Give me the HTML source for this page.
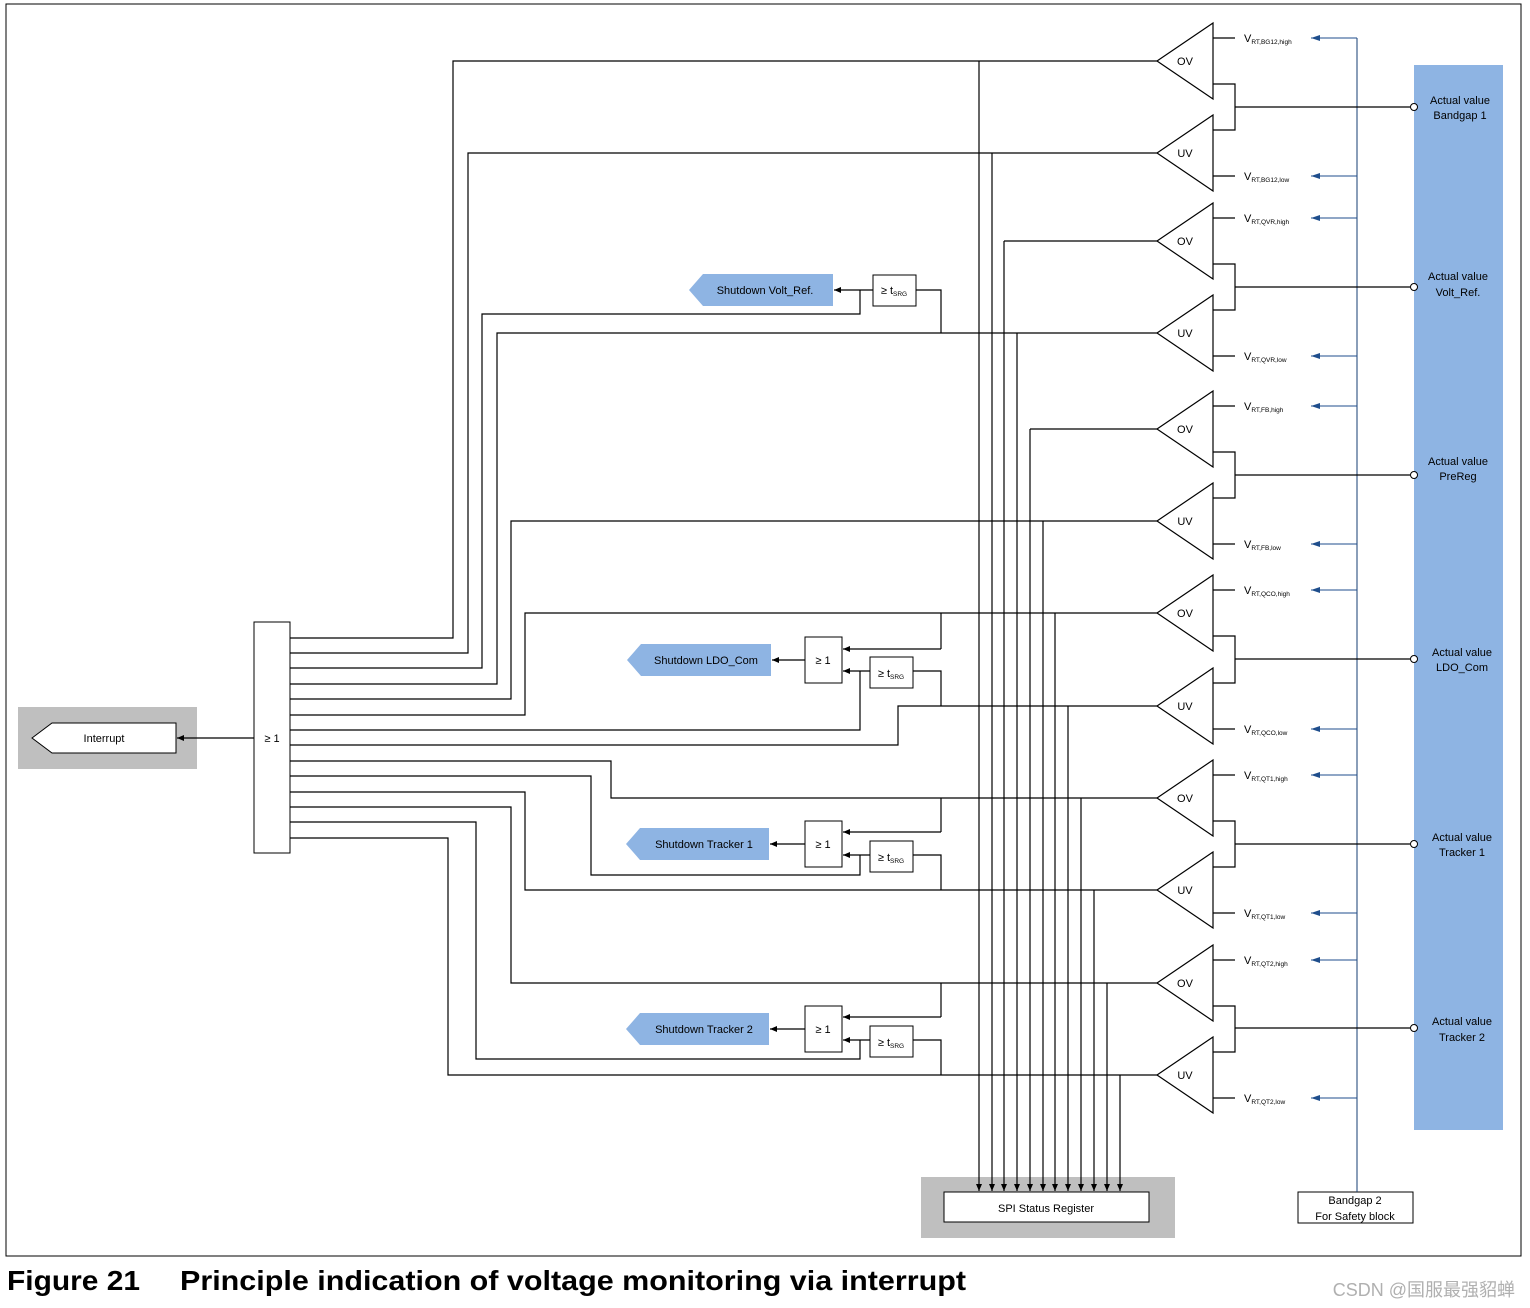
<!DOCTYPE html>
<html><head><meta charset="utf-8"><style>
html,body{margin:0;padding:0;background:#fff;}
svg{display:block;}
text{font-family:"Liberation Sans",sans-serif;}
</style></head><body>
<svg width="1530" height="1308" viewBox="0 0 1530 1308" xmlns="http://www.w3.org/2000/svg">
<defs>
<marker id="a" markerWidth="8" markerHeight="8" refX="7" refY="4" orient="auto" markerUnits="userSpaceOnUse"><path d="M0,1 L7,4 L0,7 Z" fill="#000"/></marker>
<marker id="b" markerWidth="10" markerHeight="8" refX="9" refY="4" orient="auto" markerUnits="userSpaceOnUse"><path d="M0,1 L9,4 L0,7 Z" fill="#1f4e8c"/></marker>
</defs>
<rect x="6" y="4" width="1515" height="1252" fill="none" stroke="#000" stroke-width="1"/>
<rect x="1414" y="65" width="89" height="1065" fill="#8eb4e3"/>
<rect x="18" y="707" width="179" height="62" fill="#bfbfbf"/>
<rect x="921" y="1177" width="254" height="61" fill="#bfbfbf"/>
<rect x="944" y="1192" width="205" height="30" fill="#fff" stroke="#000"/>
<text x="1046" y="1212" font-size="11" text-anchor="middle">SPI Status Register</text>
<rect x="1298" y="1192" width="115" height="31" fill="#fff" stroke="#000"/>
<text x="1355" y="1204" font-size="11" text-anchor="middle">Bandgap 2</text>
<text x="1355" y="1220" font-size="11" text-anchor="middle">For Safety block</text>
<g stroke="#1f4e8c" fill="none" stroke-width="1">
<line x1="1357" y1="38" x2="1357" y2="1192" stroke="#163e73"/>
<line x1="1357" y1="38" x2="1311" y2="38" marker-end="url(#b)"/>
<line x1="1357" y1="176" x2="1311" y2="176" marker-end="url(#b)"/>
<line x1="1357" y1="218" x2="1311" y2="218" marker-end="url(#b)"/>
<line x1="1357" y1="356" x2="1311" y2="356" marker-end="url(#b)"/>
<line x1="1357" y1="406" x2="1311" y2="406" marker-end="url(#b)"/>
<line x1="1357" y1="544" x2="1311" y2="544" marker-end="url(#b)"/>
<line x1="1357" y1="590" x2="1311" y2="590" marker-end="url(#b)"/>
<line x1="1357" y1="729" x2="1311" y2="729" marker-end="url(#b)"/>
<line x1="1357" y1="775" x2="1311" y2="775" marker-end="url(#b)"/>
<line x1="1357" y1="913" x2="1311" y2="913" marker-end="url(#b)"/>
<line x1="1357" y1="960" x2="1311" y2="960" marker-end="url(#b)"/>
<line x1="1357" y1="1098" x2="1311" y2="1098" marker-end="url(#b)"/>
</g>
<g stroke="#000" fill="none" stroke-width="1.2">
<path d="M1213,23 L1157,61 L1213,99 Z"/>
<path d="M1213,115 L1157,153 L1213,191 Z"/>
<path d="M1213,203 L1157,241 L1213,279 Z"/>
<path d="M1213,295 L1157,333 L1213,371 Z"/>
<path d="M1213,391 L1157,429 L1213,467 Z"/>
<path d="M1213,483 L1157,521 L1213,559 Z"/>
<path d="M1213,575 L1157,613 L1213,651 Z"/>
<path d="M1213,668 L1157,706 L1213,744 Z"/>
<path d="M1213,760 L1157,798 L1213,836 Z"/>
<path d="M1213,852 L1157,890 L1213,928 Z"/>
<path d="M1213,945 L1157,983 L1213,1021 Z"/>
<path d="M1213,1037 L1157,1075 L1213,1113 Z"/>
<path d="M1213,38H1235 M1213,176H1235 M1213,218H1235 M1213,356H1235 M1213,406H1235 M1213,544H1235 M1213,590H1235 M1213,729H1235 M1213,775H1235 M1213,913H1235 M1213,960H1235 M1213,1098H1235"/>
<path d="M1213,84H1235V130H1213 M1235,107H1410"/>
<path d="M1213,264H1235V310H1213 M1235,287H1410"/>
<path d="M1213,452H1235V498H1213 M1235,475H1410"/>
<path d="M1213,636H1235V683H1213 M1235,659H1410"/>
<path d="M1213,821H1235V867H1213 M1235,844H1410"/>
<path d="M1213,1006H1235V1052H1213 M1235,1028H1410"/>
</g>
<g fill="#fff" stroke="#000" stroke-width="1">
<circle cx="1414" cy="107" r="3.5"/><circle cx="1414" cy="287" r="3.5"/><circle cx="1414" cy="475" r="3.5"/>
<circle cx="1414" cy="659" r="3.5"/><circle cx="1414" cy="844" r="3.5"/><circle cx="1414" cy="1028" r="3.5"/>
</g>
<g font-size="11" text-anchor="middle" fill="#000">
<text x="1460" y="104">Actual value</text><text x="1460" y="119">Bandgap 1</text>
<text x="1458" y="280">Actual value</text><text x="1458" y="296">Volt_Ref.</text>
<text x="1458" y="465">Actual value</text><text x="1458" y="480">PreReg</text>
<text x="1462" y="656">Actual value</text><text x="1462" y="671">LDO_Com</text>
<text x="1462" y="841">Actual value</text><text x="1462" y="856">Tracker 1</text>
<text x="1462" y="1025">Actual value</text><text x="1462" y="1041">Tracker 2</text>
</g>
<g font-size="11" text-anchor="middle">
<text x="1185" y="65">OV</text><text x="1185" y="157">UV</text>
<text x="1185" y="245">OV</text><text x="1185" y="337">UV</text>
<text x="1185" y="433">OV</text><text x="1185" y="525">UV</text>
<text x="1185" y="617">OV</text><text x="1185" y="710">UV</text>
<text x="1185" y="802">OV</text><text x="1185" y="894">UV</text>
<text x="1185" y="987">OV</text><text x="1185" y="1079">UV</text>
</g>
<g font-size="11">
<text x="1244" y="42">V<tspan font-size="6.5" dy="2">RT,BG12,high</tspan></text>
<text x="1244" y="180">V<tspan font-size="6.5" dy="2">RT,BG12,low</tspan></text>
<text x="1244" y="222">V<tspan font-size="6.5" dy="2">RT,QVR,high</tspan></text>
<text x="1244" y="360">V<tspan font-size="6.5" dy="2">RT,QVR,low</tspan></text>
<text x="1244" y="410">V<tspan font-size="6.5" dy="2">RT,FB,high</tspan></text>
<text x="1244" y="548">V<tspan font-size="6.5" dy="2">RT,FB,low</tspan></text>
<text x="1244" y="594">V<tspan font-size="6.5" dy="2">RT,QCO,high</tspan></text>
<text x="1244" y="733">V<tspan font-size="6.5" dy="2">RT,QCO,low</tspan></text>
<text x="1244" y="779">V<tspan font-size="6.5" dy="2">RT,QT1,high</tspan></text>
<text x="1244" y="917">V<tspan font-size="6.5" dy="2">RT,QT1,low</tspan></text>
<text x="1244" y="964">V<tspan font-size="6.5" dy="2">RT,QT2,high</tspan></text>
<text x="1244" y="1102">V<tspan font-size="6.5" dy="2">RT,QT2,low</tspan></text>
</g>
<g stroke="#000" fill="none" stroke-width="1.2">
<path d="M1157,61H453V638H290"/>
<path d="M1157,153H468V653H290"/>
<path d="M1157,241H1004"/>
<path d="M1157,333H497V684H290"/>
<path d="M1157,429H1030"/>
<path d="M1157,521H511V699H290"/>
<path d="M1157,613H525V715H290"/>
<path d="M1157,706H898V745H290"/>
<path d="M1157,798H611V761H290"/>
<path d="M1157,890H525V792H290"/>
<path d="M1157,983H511V807H290"/>
<path d="M1157,1075H448V838H290"/>
<path d="M290,668H482V314H860V290"/>
<path d="M290,730H860V671"/>
<path d="M290,776H591V875H860V855"/>
<path d="M290,822H476V1059H860V1040"/>
<path d="M916,290H941V333"/>
<path d="M913,671H941V706"/>
<path d="M913,855H941V890"/>
<path d="M913,1040H941V1075"/>
<path d="M941,613V649"/>
<path d="M941,798V832"/>
<path d="M941,983V1017"/>
</g>
<g stroke="#000" stroke-width="1.2" fill="none">
<line x1="873" y1="290" x2="834" y2="290" marker-end="url(#a)"/>
<line x1="941" y1="649" x2="843" y2="649" marker-end="url(#a)"/>
<line x1="870" y1="671" x2="843" y2="671" marker-end="url(#a)"/>
<line x1="805" y1="660" x2="772" y2="660" marker-end="url(#a)"/>
<line x1="941" y1="832" x2="843" y2="832" marker-end="url(#a)"/>
<line x1="870" y1="855" x2="843" y2="855" marker-end="url(#a)"/>
<line x1="805" y1="844" x2="770" y2="844" marker-end="url(#a)"/>
<line x1="941" y1="1017" x2="843" y2="1017" marker-end="url(#a)"/>
<line x1="870" y1="1040" x2="843" y2="1040" marker-end="url(#a)"/>
<line x1="805" y1="1029" x2="770" y2="1029" marker-end="url(#a)"/>
<line x1="254" y1="738" x2="177" y2="738" marker-end="url(#a)"/>
<line x1="979" y1="61" x2="979" y2="1191" marker-end="url(#a)"/>
<line x1="992" y1="153" x2="992" y2="1191" marker-end="url(#a)"/>
<line x1="1004" y1="241" x2="1004" y2="1191" marker-end="url(#a)"/>
<line x1="1017" y1="333" x2="1017" y2="1191" marker-end="url(#a)"/>
<line x1="1030" y1="429" x2="1030" y2="1191" marker-end="url(#a)"/>
<line x1="1043" y1="521" x2="1043" y2="1191" marker-end="url(#a)"/>
<line x1="1055" y1="613" x2="1055" y2="1191" marker-end="url(#a)"/>
<line x1="1068" y1="706" x2="1068" y2="1191" marker-end="url(#a)"/>
<line x1="1081" y1="798" x2="1081" y2="1191" marker-end="url(#a)"/>
<line x1="1094" y1="890" x2="1094" y2="1191" marker-end="url(#a)"/>
<line x1="1107" y1="983" x2="1107" y2="1191" marker-end="url(#a)"/>
<line x1="1120" y1="1075" x2="1120" y2="1191" marker-end="url(#a)"/>
</g>
<g fill="#fff" stroke="#000" stroke-width="1">
<rect x="254" y="622" width="36" height="231"/>
<rect x="873" y="275" width="43" height="31"/>
<rect x="805" y="637" width="37" height="46"/><rect x="870" y="657" width="43" height="31"/>
<rect x="805" y="821" width="37" height="46"/><rect x="870" y="841" width="43" height="31"/>
<rect x="805" y="1006" width="37" height="46"/><rect x="870" y="1026" width="43" height="31"/>
<path d="M32,738 L52,723 H176 V753 H52 Z"/>
</g>
<g font-size="11" text-anchor="middle">
<text x="272" y="742">≥ 1</text>
<text x="823" y="664">≥ 1</text><text x="823" y="848">≥ 1</text><text x="823" y="1033">≥ 1</text>
<text x="894" y="294">≥ t<tspan font-size="6.5" dy="2">SRG</tspan></text>
<text x="891" y="677">≥ t<tspan font-size="6.5" dy="2">SRG</tspan></text>
<text x="891" y="861">≥ t<tspan font-size="6.5" dy="2">SRG</tspan></text>
<text x="891" y="1046">≥ t<tspan font-size="6.5" dy="2">SRG</tspan></text>
<text x="104" y="742">Interrupt</text>
</g>
<g fill="#8eb4e3">
<path d="M689,290 L703,274 H833 V306 H703 Z"/>
<path d="M627,660 L641,644 H771 V676 H641 Z"/>
<path d="M626,844 L640,828 H769 V860 H640 Z"/>
<path d="M626,1029 L640,1013 H769 V1045 H640 Z"/>
</g>
<g font-size="11" text-anchor="middle">
<text x="765" y="294">Shutdown Volt_Ref.</text>
<text x="706" y="664">Shutdown LDO_Com</text>
<text x="704" y="848">Shutdown Tracker 1</text>
<text x="704" y="1033">Shutdown Tracker 2</text>
</g>
<text x="7" y="1290" font-size="28" font-weight="bold" textLength="133" lengthAdjust="spacingAndGlyphs">Figure 21</text>
<text x="180" y="1290" font-size="28" font-weight="bold" textLength="786" lengthAdjust="spacingAndGlyphs">Principle indication of voltage monitoring via interrupt</text>
<text x="1515" y="1296" font-size="18" fill="#b0b0b0" text-anchor="end" style="font-family:'Liberation Sans','Noto Sans CJK SC',sans-serif">CSDN @国服最强貂蝉</text>
</svg>
</body></html>
